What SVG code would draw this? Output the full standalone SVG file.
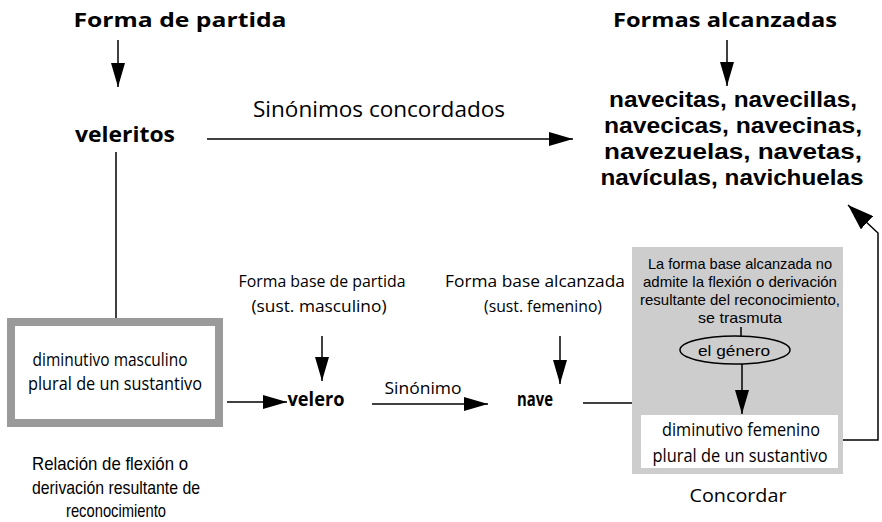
<svg xmlns="http://www.w3.org/2000/svg" width="882" height="522" viewBox="0 0 882 522">
<defs>
<style>
.b{font-family:"Open Sans","Liberation Sans",sans-serif;font-weight:700;fill:#000;text-anchor:middle}
.bl{font-family:"Liberation Sans","DejaVu Sans",sans-serif;font-weight:700;fill:#000;text-anchor:middle}
.r{font-family:"Open Sans","Liberation Sans",sans-serif;fill:#000;text-anchor:middle}
.n{font-family:"Liberation Sans","DejaVu Sans",sans-serif;fill:#000;text-anchor:middle}
.ln{stroke:#000;stroke-width:1.5;fill:none}
</style>
<marker id="ah" markerUnits="userSpaceOnUse" markerWidth="24" markerHeight="14" refX="24" refY="7" orient="auto">
<path d="M0,0 L24,7 L0,14 z" fill="#000"/>
</marker>
<marker id="ahL" markerUnits="userSpaceOnUse" markerWidth="26" markerHeight="18" refX="26" refY="9" orient="auto">
<path d="M0,0 L26,9 L0,18 z" fill="#000"/>
</marker>
</defs>
<rect width="882" height="522" fill="#fff"/>

<g id="connectors">
<line class="ln" x1="118" y1="40" x2="118" y2="87" marker-end="url(#ah)"/>
<line class="ln" x1="727" y1="40" x2="727" y2="86" marker-end="url(#ah)"/>
<line class="ln" x1="207" y1="139" x2="573" y2="139" marker-end="url(#ah)"/>
<line class="ln" x1="116" y1="152" x2="116" y2="318"/>
<line class="ln" x1="227" y1="402" x2="287" y2="402" marker-end="url(#ah)"/>
<line class="ln" x1="322" y1="336" x2="322" y2="381" marker-end="url(#ah)"/>
<line class="ln" x1="372" y1="404" x2="488" y2="404" marker-end="url(#ah)"/>
<line class="ln" x1="560" y1="336" x2="560" y2="384" marker-end="url(#ah)"/>
<line class="ln" x1="583" y1="403" x2="638" y2="403"/>
<polyline class="ln" points="838,440 878,440 878,233 848,205" marker-end="url(#ahL)"/>
</g>

<g id="forma-partida"><text class="b" x="180" y="27" font-size="20" textLength="213" lengthAdjust="spacingAndGlyphs">Forma de partida</text></g>
<g id="formas-alcanzadas"><text class="b" x="725" y="27" font-size="20" textLength="224" lengthAdjust="spacingAndGlyphs">Formas alcanzadas</text></g>
<g id="veleritos"><text class="b" x="125" y="142" font-size="22" textLength="100" lengthAdjust="spacingAndGlyphs">veleritos</text></g>
<g id="sinonimos-label"><text class="r" x="379" y="117" font-size="21" textLength="252" lengthAdjust="spacingAndGlyphs">Sinónimos concordados</text></g>
<g id="lista">
<text class="bl" x="733" y="107" font-size="22" textLength="248" lengthAdjust="spacingAndGlyphs">navecitas, navecillas,</text>
<text class="bl" x="733" y="133" font-size="22" textLength="258" lengthAdjust="spacingAndGlyphs">navecicas, navecinas,</text>
<text class="bl" x="733" y="159" font-size="22" textLength="258" lengthAdjust="spacingAndGlyphs">navezuelas, navetas,</text>
<text class="bl" x="732" y="185" font-size="22" textLength="263" lengthAdjust="spacingAndGlyphs">navículas, navichuelas</text>
</g>

<g id="diminutivo-masculino">
<rect x="7" y="318" width="216" height="109" fill="#9a9a9a"/>
<rect x="15" y="326" width="200" height="93" fill="#fff"/>
<text class="r" x="110" y="366" font-size="19" textLength="155" lengthAdjust="spacingAndGlyphs">diminutivo masculino</text>
<text class="r" x="115" y="390" font-size="19" textLength="174" lengthAdjust="spacingAndGlyphs">plural de un sustantivo</text>
</g>
<g id="relacion">
<text class="n" x="110" y="470" font-size="19" textLength="156" lengthAdjust="spacingAndGlyphs">Relación de flexión o</text>
<text class="n" x="116" y="494" font-size="19" textLength="168" lengthAdjust="spacingAndGlyphs">derivación resultante de</text>
<text class="n" x="116" y="517" font-size="19" textLength="100" lengthAdjust="spacingAndGlyphs">reconocimiento</text>
</g>

<g id="forma-base-partida">
<text class="r" x="322" y="287" font-size="17" textLength="167" lengthAdjust="spacingAndGlyphs">Forma base de partida</text>
<text class="r" x="319" y="312" font-size="17" textLength="135" lengthAdjust="spacingAndGlyphs">(sust. masculino)</text>
</g>
<g id="forma-base-alcanzada">
<text class="r" x="535" y="287" font-size="17" textLength="180" lengthAdjust="spacingAndGlyphs">Forma base alcanzada</text>
<text class="r" x="543" y="312" font-size="17" textLength="118" lengthAdjust="spacingAndGlyphs">(sust. femenino)</text>
</g>
<g id="velero"><text class="b" x="316" y="406" font-size="19" textLength="57" lengthAdjust="spacingAndGlyphs">velero</text></g>
<g id="sinonimo-label"><text class="r" x="423" y="394" font-size="17" textLength="77" lengthAdjust="spacingAndGlyphs">Sinónimo</text></g>
<g id="nave"><text class="b" x="535" y="406" font-size="19" textLength="36" lengthAdjust="spacingAndGlyphs">nave</text></g>

<g id="concordar">
<rect x="632" y="247" width="211" height="227" fill="#cdcdcd"/>
<text class="n" x="740" y="269" font-size="15" textLength="184" lengthAdjust="spacingAndGlyphs">La forma base alcanzada no</text>
<text class="n" x="740" y="287" font-size="15" textLength="194" lengthAdjust="spacingAndGlyphs">admite la flexión o derivación</text>
<text class="n" x="740" y="305" font-size="15" textLength="200" lengthAdjust="spacingAndGlyphs">resultante  del reconocimiento,</text>
<text class="n" x="740" y="323" font-size="15" textLength="84" lengthAdjust="spacingAndGlyphs">se trasmuta</text>
<line class="ln" x1="741" y1="327" x2="741" y2="336"/>
<ellipse cx="735" cy="350" rx="55" ry="14" fill="none" stroke="#000" stroke-width="1.5"/>
<text class="n" x="734" y="356" font-size="15" textLength="72" lengthAdjust="spacingAndGlyphs">el género</text>
<line class="ln" x1="742" y1="364" x2="742" y2="414" marker-end="url(#ah)"/>
<rect x="641" y="415" width="197" height="53" fill="#fff"/>
<text class="r" x="741" y="436" font-size="19" textLength="158" lengthAdjust="spacingAndGlyphs">diminutivo femenino</text>
<text class="r" x="740" y="462" font-size="19" textLength="175" lengthAdjust="spacingAndGlyphs">plural de un sustantivo</text>
<text class="r" x="738" y="502" font-size="19" textLength="97" lengthAdjust="spacingAndGlyphs">Concordar</text>
</g>
</svg>
